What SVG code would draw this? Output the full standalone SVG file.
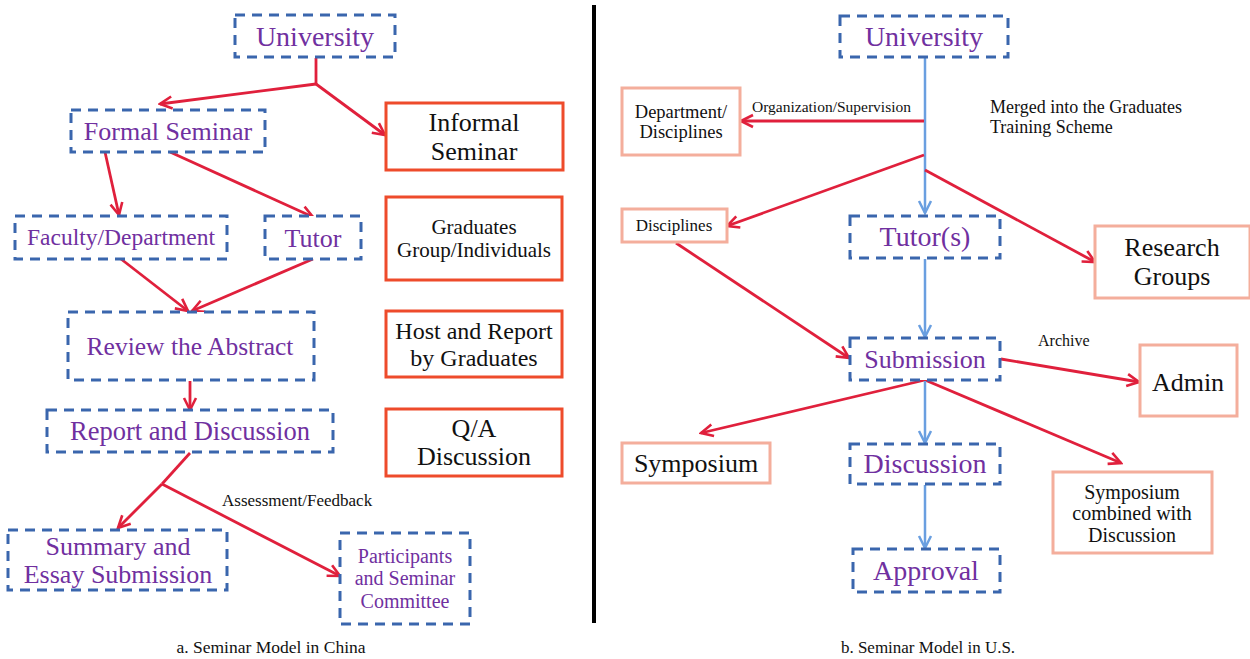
<svg xmlns="http://www.w3.org/2000/svg" width="1250" height="659" viewBox="0 0 1250 659" font-family="'Liberation Serif', 'Times New Roman', serif">
  <style>
    .dash { fill: #fff; stroke: #3a66ad; stroke-width: 3; stroke-dasharray: 10 7; }
    .boxL { fill: #fff; stroke: #ee4b2b; stroke-width: 3; }
    .boxR { fill: #fff; stroke: #f4ae9c; stroke-width: 3; }
    .red { fill: none; stroke: #e0203c; stroke-width: 2.8; marker-end: url(#arrRed); }
    .redplain { fill: none; stroke: #e0203c; stroke-width: 2.8; }
    .blue { fill: none; stroke: #6a9fe0; stroke-width: 2.5; marker-end: url(#arrBlue); }
    text { font-family: "Liberation Serif", "Times New Roman", serif; text-anchor: middle; }
    .p { fill: #7030a0; }
    .k { fill: #111; }
    .lbl { fill: #111; text-anchor: start; }
  </style>
  <defs>
    <marker id="arrRed" markerUnits="userSpaceOnUse" markerWidth="16" markerHeight="16" viewBox="0 0 16 16" refX="14" refY="8" orient="auto">
      <path d="M2,2 L14,8 L2,14" fill="none" stroke="#e0203c" stroke-width="2.6"/>
    </marker>
    <marker id="arrBlue" markerUnits="userSpaceOnUse" markerWidth="16" markerHeight="16" viewBox="0 0 16 16" refX="14" refY="8" orient="auto">
      <path d="M2,2 L14,8 L2,14" fill="none" stroke="#6a9fe0" stroke-width="2.5"/>
    </marker>
  </defs>
  <rect width="1250" height="659" fill="#fff"/>

  <!-- divider between the two models -->
  <line x1="594" y1="5" x2="594" y2="623" stroke="#000" stroke-width="4"/>

  <!-- connectors -->
  <g id="connectors">
    <!-- China model -->
    <polyline class="redplain" points="316,58 316,84"/>
    <line class="red" x1="316" y1="84" x2="160" y2="104"/>
    <line class="red" x1="316" y1="84" x2="385" y2="135"/>
    <line class="red" x1="105" y1="152" x2="119" y2="215"/>
    <line class="red" x1="170" y1="152" x2="313" y2="217"/>
    <line class="red" x1="121" y1="259" x2="188" y2="311"/>
    <line class="red" x1="313" y1="259" x2="192" y2="311"/>
    <line class="red" x1="190" y1="381" x2="190" y2="410"/>
    <polyline class="redplain" points="190,453 162,484"/>
    <line class="red" x1="162" y1="484" x2="118" y2="528"/>
    <line class="red" x1="162" y1="484" x2="340" y2="576"/>
    <!-- U.S. model -->
    <line class="blue" x1="925" y1="58" x2="925" y2="213"/>
    <line class="red" x1="924" y1="121" x2="741" y2="121"/>
    <line class="red" x1="924" y1="155" x2="727" y2="226"/>
    <line class="red" x1="925" y1="170" x2="1095" y2="262"/>
    <line class="red" x1="676" y1="243" x2="849" y2="358"/>
    <line class="blue" x1="925" y1="259" x2="925" y2="337"/>
    <line class="red" x1="1001" y1="359" x2="1139" y2="382"/>
    <line class="red" x1="925" y1="380" x2="701" y2="433"/>
    <line class="red" x1="925" y1="380" x2="1121" y2="463"/>
    <line class="blue" x1="925" y1="381" x2="925" y2="443"/>
    <line class="blue" x1="925" y1="485" x2="925" y2="548"/>
  </g>

  <!-- connector labels -->
  <g id="labels">
    <text class="lbl" x="222" y="506" font-size="17">Assessment/Feedback</text>
    <text class="lbl" x="752" y="112" font-size="15.5">Organization/Supervision</text>
    <text class="lbl" x="990" y="113" font-size="18">Merged into the Graduates</text>
    <text class="lbl" x="990" y="133" font-size="18">Training Scheme</text>
    <text class="lbl" x="1038" y="346" font-size="16">Archive</text>
  </g>

  <!-- China model nodes -->
  <g id="cn-university">
    <rect class="dash" x="235" y="15" width="160" height="42"/>
    <text class="p" x="315" y="46" font-size="28">University</text>
  </g>
  <g id="cn-formal">
    <rect class="dash" x="71" y="110" width="194" height="42"/>
    <text class="p" x="168" y="140" font-size="26">Formal Seminar</text>
  </g>
  <g id="cn-informal">
    <rect class="boxL" x="386" y="103" width="177" height="67"/>
    <text class="k" x="474" y="131" font-size="26">Informal</text>
    <text class="k" x="474" y="160" font-size="26">Seminar</text>
  </g>
  <g id="cn-faculty">
    <rect class="dash" x="15" y="216" width="212" height="43"/>
    <text class="p" x="121" y="245" font-size="23.5">Faculty/Department</text>
  </g>
  <g id="cn-tutor">
    <rect class="dash" x="265" y="216" width="96" height="43"/>
    <text class="p" x="313" y="247" font-size="26">Tutor</text>
  </g>
  <g id="cn-graduates">
    <rect class="boxL" x="386" y="197" width="176" height="83"/>
    <text class="k" x="474" y="234" font-size="21">Graduates</text>
    <text class="k" x="474" y="257" font-size="21">Group/Individuals</text>
  </g>
  <g id="cn-review">
    <rect class="dash" x="68" y="312" width="246" height="68"/>
    <text class="p" x="190" y="355" font-size="25.5">Review the Abstract</text>
  </g>
  <g id="cn-host">
    <rect class="boxL" x="386" y="311" width="176" height="66"/>
    <text class="k" x="474" y="339" font-size="24">Host and Report</text>
    <text class="k" x="474" y="366" font-size="24">by Graduates</text>
  </g>
  <g id="cn-report">
    <rect class="dash" x="47" y="410" width="286" height="42"/>
    <text class="p" x="190" y="440" font-size="26.5">Report and Discussion</text>
  </g>
  <g id="cn-qa">
    <rect class="boxL" x="386" y="409" width="176" height="67"/>
    <text class="k" x="474" y="437" font-size="26">Q/A</text>
    <text class="k" x="474" y="465" font-size="26">Discussion</text>
  </g>
  <g id="cn-summary">
    <rect class="dash" x="8" y="530" width="219" height="60"/>
    <text class="p" x="118" y="555" font-size="26">Summary and</text>
    <text class="p" x="118" y="583" font-size="26">Essay Submission</text>
  </g>
  <g id="cn-participants">
    <rect class="dash" x="340" y="533" width="130" height="91"/>
    <text class="p" x="405" y="563" font-size="20">Participants</text>
    <text class="p" x="405" y="585" font-size="20">and Seminar</text>
    <text class="p" x="405" y="608" font-size="20">Committee</text>
  </g>
  <text class="k" x="271" y="653" font-size="17.5">a. Seminar Model in China</text>

  <!-- U.S. model nodes -->
  <g id="us-university">
    <rect class="dash" x="840" y="16" width="168" height="41"/>
    <text class="p" x="924" y="46" font-size="28">University</text>
  </g>
  <g id="us-department">
    <rect class="boxR" x="622" y="88" width="118" height="67"/>
    <text class="k" x="681" y="118" font-size="18.5">Department/</text>
    <text class="k" x="681" y="138" font-size="18.5">Disciplines</text>
  </g>
  <g id="us-disciplines">
    <rect class="boxR" x="622" y="209" width="105" height="33"/>
    <text class="k" x="674" y="231" font-size="17">Disciplines</text>
  </g>
  <g id="us-tutors">
    <rect class="dash" x="850" y="216" width="150" height="42"/>
    <text class="p" x="925" y="246" font-size="28">Tutor(s)</text>
  </g>
  <g id="us-research">
    <rect class="boxR" x="1095" y="226" width="155" height="72"/>
    <text class="k" x="1172" y="256" font-size="26">Research</text>
    <text class="k" x="1172" y="285" font-size="26">Groups</text>
  </g>
  <g id="us-submission">
    <rect class="dash" x="850" y="338" width="150" height="42"/>
    <text class="p" x="925" y="368" font-size="26">Submission</text>
  </g>
  <g id="us-admin">
    <rect class="boxR" x="1140" y="345" width="97" height="71"/>
    <text class="k" x="1188" y="391" font-size="26">Admin</text>
  </g>
  <g id="us-symposium">
    <rect class="boxR" x="622" y="443" width="148" height="40"/>
    <text class="k" x="696" y="472" font-size="26">Symposium</text>
  </g>
  <g id="us-discussion">
    <rect class="dash" x="850" y="444" width="150" height="40"/>
    <text class="p" x="925" y="473" font-size="28">Discussion</text>
  </g>
  <g id="us-combined">
    <rect class="boxR" x="1053" y="472" width="159" height="81"/>
    <text class="k" x="1132" y="499" font-size="20">Symposium</text>
    <text class="k" x="1132" y="520" font-size="20">combined with</text>
    <text class="k" x="1132" y="542" font-size="20">Discussion</text>
  </g>
  <g id="us-approval">
    <rect class="dash" x="853" y="549" width="147" height="43"/>
    <text class="p" x="926" y="580" font-size="28">Approval</text>
  </g>
  <text class="k" x="928" y="653" font-size="17">b. Seminar Model in U.S.</text>
</svg>
